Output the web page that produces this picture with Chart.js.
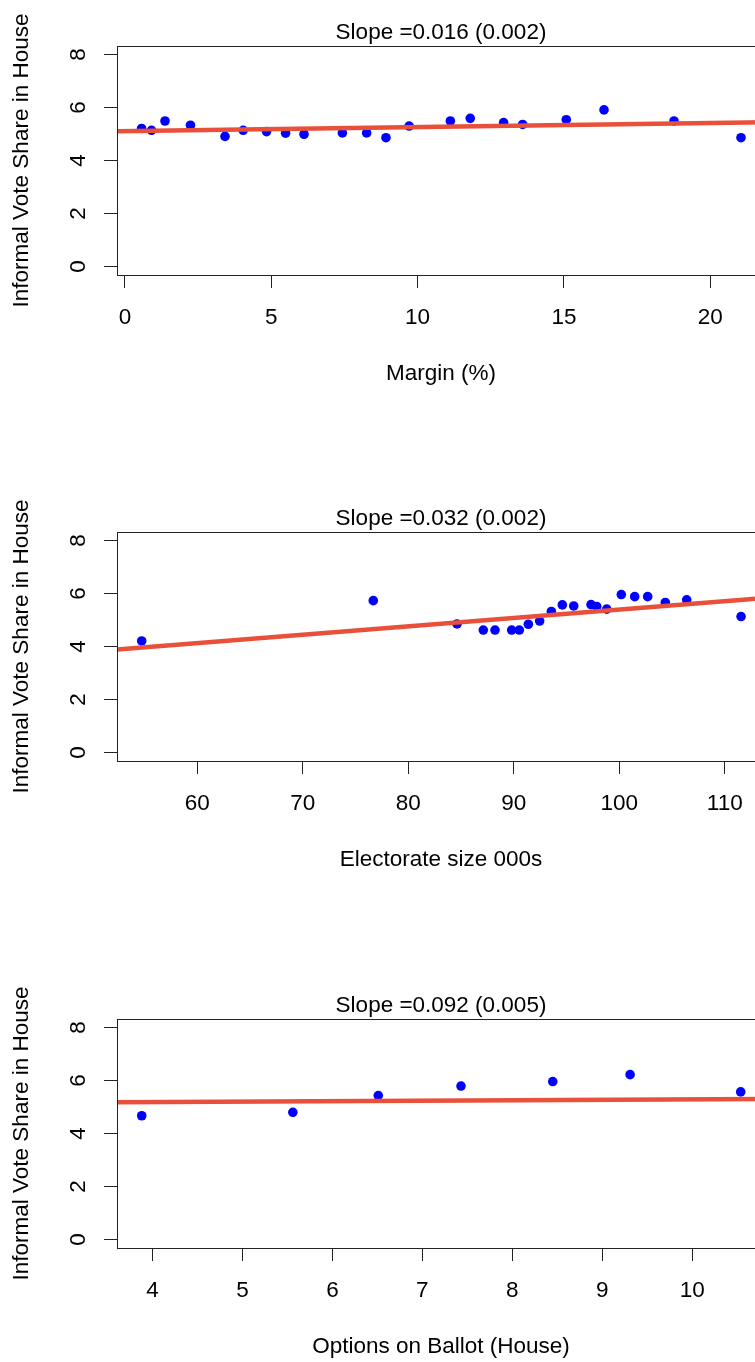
<!DOCTYPE html>
<html>
<head>
<meta charset="utf-8">
<script src="https://cdn.jsdelivr.net/npm/chart.js@4"></script>
<style>
  html, body { margin: 0; padding: 0; background: #fff; overflow: hidden; }
  #page { position: relative; width: 755px; height: 1362px; overflow: hidden; }
  canvas { position: absolute; left: 0; }
</style>
</head>
<body>
<div id="page">
  <canvas id="marginChart" width="825" height="487" style="top:0px"></canvas>
  <canvas id="electorateChart" width="825" height="487" style="top:487px"></canvas>
  <canvas id="optionsChart" width="825" height="388" style="top:974px"></canvas>
</div>
<script>
// --- data ---
const yTicks = [0, 2, 4, 6, 8];

const marginX = [0.57, 0.91, 1.37, 2.24, 3.42, 4.04, 4.84, 5.49, 6.12, 7.43, 8.26,
                 8.92, 9.71, 11.12, 11.80, 12.94, 13.59, 15.08, 16.37, 18.76, 21.05];
const marginY = [5.21, 5.14, 5.49, 5.33, 4.91, 5.14, 5.09, 5.03, 4.99, 5.04, 5.04,
                 4.86, 5.30, 5.49, 5.59, 5.43, 5.36, 5.54, 5.91, 5.49, 4.86];
const marginFitX = [-0.27, 21.87];
const marginFitY = [5.10, 5.44];
const marginTicks = [0, 5, 10, 15, 20];

const electorateX = [54.73, 76.68, 84.62, 87.11, 88.22, 89.80, 90.52, 91.38, 92.45, 93.56,
                     94.60, 95.68, 97.32, 97.86, 98.81, 100.19, 101.46, 102.69, 104.36, 106.39, 111.54];
const electorateY = [4.21, 5.73, 4.85, 4.62, 4.62, 4.62, 4.62, 4.84, 4.96, 5.32,
                     5.57, 5.53, 5.58, 5.51, 5.41, 5.96, 5.88, 5.88, 5.66, 5.76, 5.13];
const electorateFitX = [52.39, 113.81];
const electorateFitY = [3.89, 5.83];
const electorateTicks = [60, 70, 80, 90, 100, 110];

const optionsX = [3.88, 5.56, 6.51, 7.43, 8.45, 9.31, 10.54];
const optionsY = [4.67, 4.80, 5.43, 5.79, 5.96, 6.22, 5.57];
const optionsFitX = [3.605, 10.81];
const optionsFitY = [5.18, 5.30];
const optionsTicks = [4, 5, 6, 7, 8, 9, 10];

// --- styling ---
const FONT = { family: '"Liberation Sans", Arial, sans-serif', size: 22.5, lineHeight: 1.2 };
const INK = '#222';
const POINT_BLUE = '#0000ff';
const FIT_RED = '#e8503a';

// R-style box around the plotting region
const framePlugin = {
    id: 'frame',
    afterDraw(chart) {
        const { ctx, chartArea: a } = chart;
        ctx.save();
        ctx.strokeStyle = INK;
        ctx.lineWidth = 1;
        ctx.strokeRect(Math.round(a.left) + 0.5, Math.round(a.top) + 0.5,
                       Math.round(a.right - a.left), Math.round(a.bottom - a.top));
        ctx.restore();
    }
};

function makePanel(id, opts) {
    const canvas = document.getElementById(id);
    const h = canvas.height;
    const points = opts.xs.map((x, i) => ({ x: x, y: opts.ys[i] }));
    const fit = opts.fitX.map((x, i) => ({ x: x, y: opts.fitY[i] }));

    return new Chart(canvas, {
        type: 'scatter',
        data: {
            datasets: [
                {
                    type: 'line',
                    data: fit,
                    borderColor: FIT_RED,
                    borderWidth: 4.5,
                    pointRadius: 0,
                    fill: false,
                    order: 0
                },
                {
                    data: points,
                    backgroundColor: POINT_BLUE,
                    borderColor: POINT_BLUE,
                    borderWidth: 0,
                    pointRadius: 4.8,
                    order: 1
                }
            ]
        },
        options: {
            responsive: false,
            devicePixelRatio: 1,
            animation: false,
            events: [],
            layout: { padding: { left: 0, right: 60, top: 0, bottom: 0 } },
            plugins: {
                legend: { display: false },
                tooltip: { enabled: false },
                title: {
                    display: true,
                    text: opts.title,
                    fullSize: false,
                    color: '#000',
                    font: { ...FONT, weight: 'normal' },
                    padding: { top: opts.plotTop - 27, bottom: 0 }
                }
            },
            scales: {
                x: {
                    type: 'linear',
                    min: opts.xMin,
                    max: opts.xMax,
                    afterBuildTicks: s => { s.ticks = opts.ticks.map(v => ({ value: v })); },
                    afterFit: s => { s.height = h - opts.plotBottom; },
                    border: { display: false },
                    grid: {
                        drawOnChartArea: false,
                        drawTicks: true,
                        tickLength: 13,
                        tickColor: INK,
                        lineWidth: 1
                    },
                    ticks: {
                        color: '#000',
                        font: FONT,
                        padding: 16,
                        maxRotation: 0,
                        autoSkip: false
                    },
                    title: {
                        display: true,
                        text: opts.xLabel,
                        color: '#000',
                        font: FONT,
                        padding: { top: 0, bottom: h - opts.plotBottom - 99 - 13.5 }
                    }
                },
                y: {
                    type: 'linear',
                    min: -0.32,
                    max: 8.32,
                    afterBuildTicks: s => { s.ticks = yTicks.map(v => ({ value: v })); },
                    afterFit: s => { s.width = 117; },
                    border: { display: false },
                    grid: {
                        drawOnChartArea: false,
                        drawTicks: true,
                        tickLength: 13,
                        tickColor: INK,
                        lineWidth: 1
                    },
                    ticks: {
                        color: '#000',
                        font: FONT,
                        padding: 19,
                        minRotation: 90,
                        maxRotation: 90,
                        crossAlign: 'center',
                        autoSkip: false
                    },
                    title: {
                        display: true,
                        text: 'Informal Vote Share in House',
                        color: '#000',
                        font: FONT,
                        padding: { top: 8.5, bottom: 0 }
                    }
                }
            }
        },
        plugins: [framePlugin]
    });
}

makePanel('marginChart', {
    title: 'Slope =0.016 (0.002)',
    xLabel: 'Margin (%)',
    xs: marginX, ys: marginY, fitX: marginFitX, fitY: marginFitY,
    ticks: marginTicks, xMin: -0.27, xMax: 21.87,
    plotTop: 46, plotBottom: 275
});

makePanel('electorateChart', {
    title: 'Slope =0.032 (0.002)',
    xLabel: 'Electorate size 000s',
    xs: electorateX, ys: electorateY, fitX: electorateFitX, fitY: electorateFitY,
    ticks: electorateTicks, xMin: 52.39, xMax: 113.81,
    plotTop: 45, plotBottom: 274
});

makePanel('optionsChart', {
    title: 'Slope =0.092 (0.005)',
    xLabel: 'Options on Ballot (House)',
    xs: optionsX, ys: optionsY, fitX: optionsFitX, fitY: optionsFitY,
    ticks: optionsTicks, xMin: 3.605, xMax: 10.81,
    plotTop: 45, plotBottom: 274
});
</script>
</body>
</html>
